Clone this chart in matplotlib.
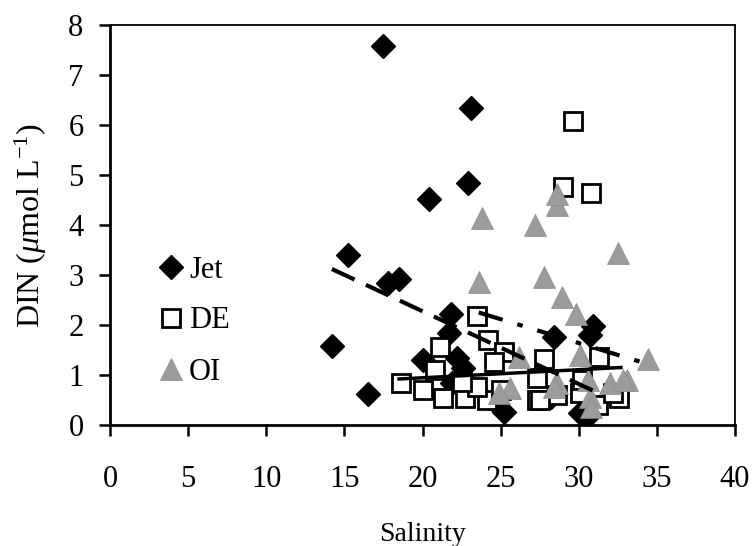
import matplotlib
matplotlib.use("Agg")
import matplotlib.pyplot as plt

plt.rcParams['font.family'] = ['Liberation Serif', 'DejaVu Serif']
plt.rcParams['mathtext.fontset'] = 'custom'
plt.rcParams['mathtext.rm'] = 'Liberation Serif'
plt.rcParams['mathtext.it'] = 'Liberation Serif:italic'
plt.rcParams['lines.scale_dashes'] = False

# ---- data ----
jet_sal = [17.5, 23.1, 22.9, 20.4, 15.2, 17.8, 18.5, 14.2, 16.5, 21.8, 21.7,
           22.2, 20.0, 22.6, 28.4, 30.9, 30.7, 21.9, 25.2, 30.5, 30.1, 28.2, 24.5]
jet_din = [7.58, 6.34, 4.84, 4.52, 3.40, 2.85, 2.92, 1.58, 0.62, 2.22, 1.84,
           1.34, 1.30, 1.15, 1.76, 1.98, 1.80, 0.84, 0.26, 0.16, 0.24, 0.56, 0.50]

de_sal = [29.6, 29.0, 30.8, 23.5, 21.1, 24.2, 25.2, 24.6, 20.8, 18.6, 20.0,
          21.3, 22.7, 24.1, 23.5, 25.0, 27.3, 22.5, 27.8, 31.3, 28.6, 30.1,
          32.6, 27.5, 27.3, 30.2, 31.2, 32.2]
de_din = [6.08, 4.76, 4.64, 2.18, 1.56, 1.70, 1.46, 1.26, 1.10, 0.84, 0.70,
          0.54, 0.54, 0.50, 0.76, 0.70, 0.50, 0.86, 1.32, 1.36, 0.60, 0.64,
          0.54, 0.50, 0.94, 0.90, 0.40, 0.64]

oi_sal = [28.6, 28.6, 23.8, 27.2, 32.5, 23.6, 27.8, 28.9, 29.8, 34.4, 30.1,
          28.6, 30.6, 32.0, 33.1, 30.7, 30.8, 26.2, 25.6, 24.9, 28.4, 32.8]
oi_din = [4.40, 4.62, 4.14, 4.00, 3.44, 2.86, 2.96, 2.56, 2.22, 1.32, 1.40,
          0.84, 0.90, 0.84, 0.90, 0.56, 0.36, 1.36, 0.74, 0.64, 0.76, 0.90]

# trend lines (end points)
jet_trend_x = [14.2, 31.1]
jet_trend_y = [3.12, 0.66]
de_trend_x = [18.5, 32.7]
de_trend_y = [0.92, 1.15]
oi_trend_x = [23.6, 34.4]
oi_trend_y = [2.25, 1.22]

xticks = [0, 5, 10, 15, 20, 25, 30, 35, 40]
yticks = [0, 1, 2, 3, 4, 5, 6, 7, 8]

# ---- figure ----
fig = plt.figure(figsize=(7.53, 5.46), dpi=100)
ax = fig.add_axes([110/753, 121/546, 625/753, 400/546])

ax.plot(jet_sal, jet_din, ls='none', marker='D', ms=12, color='black',
        mec='black', label='Jet', zorder=3)
ax.plot(de_sal, de_din, ls='none', marker='s', ms=13.5, mfc='white',
        mec='black', mew=2, label='DE', zorder=4)
ax.plot(oi_sal, oi_din, ls='none', marker='^', ms=16, color='#9c9c9c',
        mec='#8a8a8a', mew=0.5, label='OI', zorder=5)

ax.plot(jet_trend_x, jet_trend_y, color='black', lw=3,
        ls=(0, (18, 9)), zorder=6)
ax.plot(de_trend_x, de_trend_y, color='black', lw=2.5, ls='-', zorder=6)
ax.plot(oi_trend_x, oi_trend_y, color='black', lw=3,
        ls=(0, (18, 11, 4, 11)), zorder=6)

ax.set_xlim(0, 40)
ax.set_ylim(0, 8)
ax.set_xticks(xticks)
ax.set_yticks(yticks)
ax.tick_params(axis='x', direction='out', length=8, width=1.8, pad=21,
               labelsize=22, top=False)
ax.tick_params(axis='y', direction='out', length=8, width=1.8, pad=11,
               labelsize=22, right=False)
for s in ['left', 'bottom']:
    ax.spines[s].set_linewidth(2)
for s in ['top', 'right']:
    ax.spines[s].set_linewidth(1.3)

ax.set_xlabel('Salinity', fontsize=20, labelpad=20)
ax.set_ylabel(r'DIN ($\mu$mol L$^{-1}$)', fontsize=23, labelpad=14)

leg = ax.legend(loc='center left', bbox_to_anchor=(0.048, 0.26), frameon=False,
                fontsize=22, handletextpad=0.0, labelspacing=0.72,
                handlelength=1.2, borderaxespad=0)

fig.savefig('out.png', dpi=100)
